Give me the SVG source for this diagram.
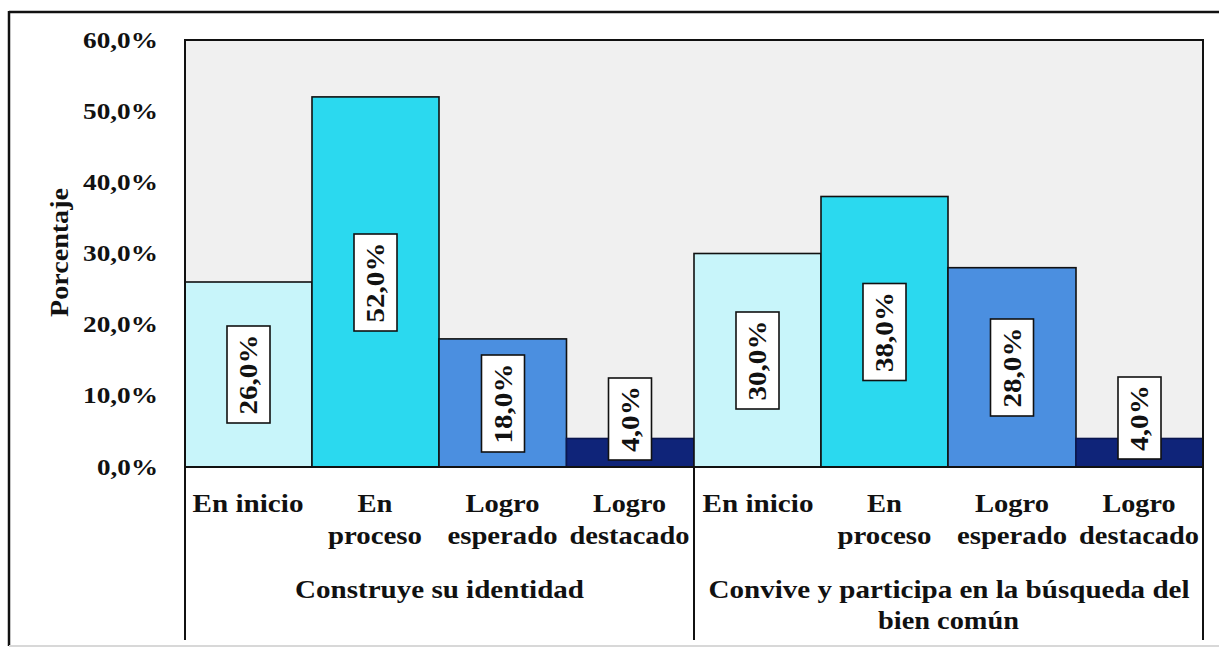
<svg xmlns="http://www.w3.org/2000/svg" width="1219" height="650" viewBox="0 0 1219 650">
<style>
text{font-family:"Liberation Serif","Times New Roman",serif;font-weight:bold;fill:#111;}
.ax{font-size:23px;text-anchor:end;}
.cat{font-size:25px;text-anchor:middle;}
.dl{font-size:25px;text-anchor:middle;}
.bar{stroke:#111;stroke-width:1.6;}
.lbl{fill:#fff;stroke:#111;stroke-width:1.6;}
.c1{fill:#c8f5fa;}
.c2{fill:#2bd9ef;}
.c3{fill:#4b8fe0;}
.c4{fill:#0f2479;stroke:#0a1650;}
.axis{stroke:#111;stroke-width:2;fill:none;}
</style>
<rect x="0" y="0" width="1219" height="650" fill="#fff"/>
<g id="frame">
<line x1="9" y1="12" x2="1219" y2="12" stroke="#111" stroke-width="2.5"/>
<line x1="9" y1="11" x2="9" y2="646" stroke="#111" stroke-width="2.5"/>
<line x1="9" y1="646" x2="1219" y2="646" stroke="#d8d8d8" stroke-width="2"/>
</g>
<g id="plot-area">
<rect x="185" y="40" width="1018" height="427" fill="#f0f0f0"/>
</g>
<g id="bars">
<g id="bar-g1-inicio"><rect class="bar c1" x="185" y="282" width="127" height="185"/></g>
<g id="bar-g1-proceso"><rect class="bar c2" x="312" y="96.9" width="127" height="370.1"/></g>
<g id="bar-g1-esperado"><rect class="bar c3" x="439" y="338.9" width="127.5" height="128.1"/></g>
<g id="bar-g1-destacado"><rect class="bar c4" x="566.5" y="438.5" width="127.5" height="28.5"/></g>
<g id="bar-g2-inicio"><rect class="bar c1" x="694" y="253.5" width="127" height="213.5"/></g>
<g id="bar-g2-proceso"><rect class="bar c2" x="821" y="196.5" width="127" height="270.5"/></g>
<g id="bar-g2-esperado"><rect class="bar c3" x="948" y="267.7" width="128" height="199.3"/></g>
<g id="bar-g2-destacado"><rect class="bar c4" x="1076" y="438.5" width="127" height="28.5"/></g>
</g>
<g id="axes">
<rect class="axis" x="185" y="40" width="1018" height="427"/>
<line class="axis" x1="185" y1="467" x2="185" y2="640"/>
<line class="axis" x1="694" y1="467" x2="694" y2="640"/>
<line class="axis" x1="1203" y1="467" x2="1203" y2="640"/>
</g>
<g id="y-labels">
<text class="ax" x="158" y="47.5" textLength="75" lengthAdjust="spacingAndGlyphs">60,0%</text>
<text class="ax" x="158" y="118.7" textLength="75" lengthAdjust="spacingAndGlyphs">50,0%</text>
<text class="ax" x="158" y="189.8" textLength="75" lengthAdjust="spacingAndGlyphs">40,0%</text>
<text class="ax" x="158" y="261" textLength="75" lengthAdjust="spacingAndGlyphs">30,0%</text>
<text class="ax" x="158" y="332.2" textLength="75" lengthAdjust="spacingAndGlyphs">20,0%</text>
<text class="ax" x="158" y="403.3" textLength="75" lengthAdjust="spacingAndGlyphs">10,0%</text>
<text class="ax" x="158" y="474.5" textLength="61" lengthAdjust="spacingAndGlyphs">0,0%</text>
<text class="cat" transform="translate(68,252.5) rotate(-90)" textLength="129" lengthAdjust="spacingAndGlyphs">Porcentaje</text>
</g>
<g id="data-labels">
<g id="dl1"><rect class="lbl" x="227" y="326" width="43" height="97"/><text class="dl" transform="translate(257,374.5) rotate(-90)" textLength="80" lengthAdjust="spacingAndGlyphs">26,0%</text></g>
<g id="dl2"><rect class="lbl" x="354" y="234" width="43" height="97"/><text class="dl" transform="translate(384,282.5) rotate(-90)" textLength="80" lengthAdjust="spacingAndGlyphs">52,0%</text></g>
<g id="dl3"><rect class="lbl" x="481.5" y="355" width="43" height="97"/><text class="dl" transform="translate(511.5,403.5) rotate(-90)" textLength="80" lengthAdjust="spacingAndGlyphs">18,0%</text></g>
<g id="dl4"><rect class="lbl" x="608.5" y="378" width="43" height="82"/><text class="dl" transform="translate(638.5,419) rotate(-90)" textLength="66" lengthAdjust="spacingAndGlyphs">4,0%</text></g>
<g id="dl5"><rect class="lbl" x="736" y="312" width="43" height="97"/><text class="dl" transform="translate(766,360.5) rotate(-90)" textLength="80" lengthAdjust="spacingAndGlyphs">30,0%</text></g>
<g id="dl6"><rect class="lbl" x="863" y="283.5" width="43" height="97"/><text class="dl" transform="translate(893,332) rotate(-90)" textLength="80" lengthAdjust="spacingAndGlyphs">38,0%</text></g>
<g id="dl7"><rect class="lbl" x="990.5" y="319" width="43" height="97"/><text class="dl" transform="translate(1020.5,367.5) rotate(-90)" textLength="80" lengthAdjust="spacingAndGlyphs">28,0%</text></g>
<g id="dl8"><rect class="lbl" x="1118" y="377" width="43" height="82"/><text class="dl" transform="translate(1148,418) rotate(-90)" textLength="66" lengthAdjust="spacingAndGlyphs">4,0%</text></g>
</g>
<g id="category-labels">
<text class="cat" x="248" y="512" textLength="111" lengthAdjust="spacingAndGlyphs">En inicio</text>
<text class="cat" x="375" y="512" textLength="35" lengthAdjust="spacingAndGlyphs">En</text>
<text class="cat" x="375" y="544" textLength="94" lengthAdjust="spacingAndGlyphs">proceso</text>
<text class="cat" x="502.5" y="512" textLength="74" lengthAdjust="spacingAndGlyphs">Logro</text>
<text class="cat" x="502.5" y="544" textLength="110" lengthAdjust="spacingAndGlyphs">esperado</text>
<text class="cat" x="629.5" y="512" textLength="73" lengthAdjust="spacingAndGlyphs">Logro</text>
<text class="cat" x="629.5" y="544" textLength="120" lengthAdjust="spacingAndGlyphs">destacado</text>
<text class="cat" x="758" y="512" textLength="111" lengthAdjust="spacingAndGlyphs">En inicio</text>
<text class="cat" x="884.5" y="512" textLength="35" lengthAdjust="spacingAndGlyphs">En</text>
<text class="cat" x="884.5" y="544" textLength="94" lengthAdjust="spacingAndGlyphs">proceso</text>
<text class="cat" x="1012" y="512" textLength="74" lengthAdjust="spacingAndGlyphs">Logro</text>
<text class="cat" x="1012" y="544" textLength="110" lengthAdjust="spacingAndGlyphs">esperado</text>
<text class="cat" x="1139" y="512" textLength="73" lengthAdjust="spacingAndGlyphs">Logro</text>
<text class="cat" x="1139" y="544" textLength="120" lengthAdjust="spacingAndGlyphs">destacado</text>
<text class="cat" x="439.5" y="598" textLength="289" lengthAdjust="spacingAndGlyphs">Construye su identidad</text>
<text class="cat" x="949" y="598" textLength="481" lengthAdjust="spacingAndGlyphs">Convive y participa en la búsqueda del</text>
<text class="cat" x="948.5" y="629" textLength="141" lengthAdjust="spacingAndGlyphs">bien común</text>
</g>
</svg>
